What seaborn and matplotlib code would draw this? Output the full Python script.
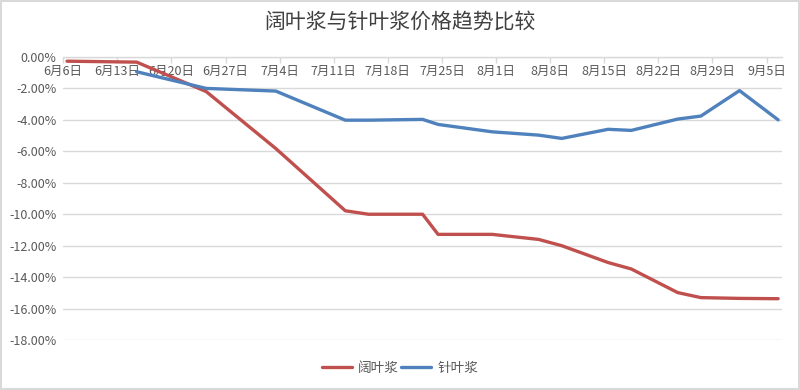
import pandas as pd
import matplotlib
matplotlib.use("Agg")
import matplotlib.pyplot as plt
import matplotlib.ticker as mticker
import seaborn as sns

# 数据（从图上读出的近似值，单位 %）
dates = ["2019-06-06", "2019-06-15", "2019-06-24", "2019-07-03", "2019-07-12",
         "2019-07-15", "2019-07-22", "2019-07-24", "2019-07-31", "2019-08-06",
         "2019-08-09", "2019-08-15", "2019-08-18", "2019-08-24", "2019-08-27",
         "2019-09-01", "2019-09-06"]
hardwood = [-0.27, -0.33, -2.2, -5.82, -9.78, -10.0, -10.0, -11.28, -11.28, -11.6,
            -12.0, -13.07, -13.48, -14.98, -15.3, -15.35, -15.37]
softwood = [None, -0.94, -2.0, -2.17, -4.02, -4.02, -3.97, -4.29, -4.76, -4.97,
            -5.18, -4.6, -4.67, -3.95, -3.76, -2.14, -4.0]
series_names = ["阔叶浆", "针叶浆"]
colors = ["#C0504D", "#4F81BD"]
title = "阔叶浆与针叶浆价格趋势比较"

sns.set_theme(style="white")
plt.rcParams["font.family"] = ["Noto Sans CJK SC", "DejaVu Sans"]
plt.rcParams["axes.unicode_minus"] = False

# long-form 表
rows = []
for name, vals in zip(series_names, [hardwood, softwood]):
    for d, v in zip(dates, vals):
        if v is not None:
            rows.append({"date": pd.Timestamp(d) + pd.Timedelta(hours=12), "value": v, "series": name})
data = pd.DataFrame(rows)

fig = plt.figure(figsize=(8, 3.9), dpi=100)
fig.patch.set_edgecolor("#D9D9D9")
fig.patch.set_linewidth(1.5)
ax = fig.add_axes([0.079, 0.128, 0.8985, 0.726])

sns.lineplot(data=data, x="date", y="value", hue="series", palette=colors,
             hue_order=series_names, linewidth=2.4, ax=ax, legend=False)

ax.set_ylim(-18, 0)
ax.set_xlim(pd.Timestamp("2019-06-06"), pd.Timestamp("2019-09-07"))
ax.yaxis.set_major_locator(mticker.MultipleLocator(2))
ax.yaxis.set_major_formatter(mticker.FuncFormatter(lambda v, p: f"{abs(v) if v == 0 else v:.2f}%"))

ticks = pd.date_range("2019-06-06", "2019-09-05", freq="7D")
ax.set_xticks(ticks)
ax.set_xticklabels([f"{d.month}月{d.day}日" for d in ticks])

ax.grid(axis="y", color="#D9D9D9", linewidth=1)
ax.set_axisbelow(True)
for s in ["top", "left", "right"]:
    ax.spines[s].set_visible(False)
ax.spines["bottom"].set_position(("data", 0))
ax.spines["bottom"].set_color("#D9D9D9")
ax.spines["bottom"].set_linewidth(1)
ax.tick_params(axis="x", direction="out", length=4, width=1, color="#D9D9D9",
               labelsize=9, labelcolor="#595959", pad=2, bottom=True)
ax.tick_params(axis="y", length=0, labelsize=9, labelcolor="#595959", pad=5)
ax.set_xlabel("")
ax.set_ylabel("")

fig.text(0.5, 0.943, title, ha="center", va="center", fontsize=15, color="#404040")

handles = [plt.Line2D([0], [0], color=c, linewidth=2.4) for c in colors]
fig.legend(handles, series_names, loc="center", bbox_to_anchor=(0.5, 0.056), ncol=2,
           frameon=False, fontsize=9.8, labelcolor="#595959", handlelength=2.2,
           columnspacing=0.2, handletextpad=0.45)

plt.savefig("out.png", dpi=100)
plt.close()
